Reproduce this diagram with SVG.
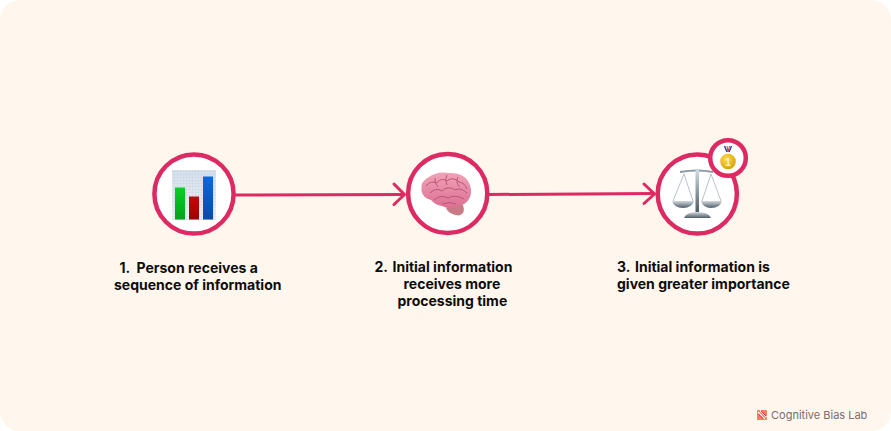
<svg xmlns="http://www.w3.org/2000/svg" width="891" height="431" viewBox="0 0 891 431">
<defs>
<style>
.ring{fill:#fff;stroke:#de2a63;stroke-width:4.500}
.link{fill:none;stroke:#de2a63;stroke-width:3;stroke-linecap:round;stroke-linejoin:round}
.label{font-family:Inter,"Liberation Sans",sans-serif;font-size:14px;font-weight:700;fill:#0d0d0d}
</style>
<linearGradient id="g1" x1="0" x2="0" y1="0" y2="1"><stop offset="0" stop-color="#09cf25"/><stop offset="1" stop-color="#03a21a"/></linearGradient>
<linearGradient id="r1" x1="0" x2="0" y1="0" y2="1"><stop offset="0" stop-color="#c40808"/><stop offset="1" stop-color="#9c0404"/></linearGradient>
<linearGradient id="b1" x1="0" x2="0" y1="0" y2="1"><stop offset="0" stop-color="#1166dd"/><stop offset="1" stop-color="#0a4aa8"/></linearGradient>
<linearGradient id="bg1" x1="0" x2="0" y1="0" y2="1"><stop offset="0" stop-color="#d5e0ec"/><stop offset="1" stop-color="#eef2f6"/></linearGradient>
<linearGradient id="br" x1="0" x2="0" y1="0" y2="1"><stop offset="0" stop-color="#f0a3b8"/><stop offset="1" stop-color="#db6f92"/></linearGradient>
<linearGradient id="steel" x1="0" x2="0" y1="0" y2="1"><stop offset="0" stop-color="#d2dae0"/><stop offset="1" stop-color="#4e5c68"/></linearGradient>
<radialGradient id="gold" cx=".4" cy=".35" r=".7"><stop offset="0" stop-color="#ffdf4a"/><stop offset="1" stop-color="#dc9a08"/></radialGradient>
<pattern id="grid" width="3" height="3" patternUnits="userSpaceOnUse"><path d="M3 0H0V3" fill="none" stroke="#bccbdc" stroke-width=".5"/></pattern>
</defs>
<rect width="891" height="431" fill="#fff"/>
<rect id="background" width="891" height="431" rx="20" fill="#fff6ed"/>
<g id="connectors">
<path class="link" d="M236 195 L403 194.500"/>
<path class="link" d="M394 184 L404.500 194.500 L394 204.500"/>
<path class="link" d="M489 194.500 L654 193.500"/>
<path class="link" d="M644 184 L654.500 194 L644 203.500"/>
</g>
<g id="node-1">
<circle class="ring" cx="194" cy="194" r="39.600"/>
<rect x="172" y="170" width="44" height="50" fill="url(#bg1)"/>
<rect x="172" y="170" width="44" height="50" fill="url(#grid)"/>
<rect x="175" y="187.500" width="10" height="32" fill="url(#g1)"/>
<rect x="189" y="196.500" width="10" height="23" fill="url(#r1)"/>
<rect x="203" y="176.500" width="10" height="43" fill="url(#b1)"/>
<text class="label" x="119.500" y="273">1.<tspan x="136.500">Person receives a</tspan></text>
<text class="label" x="114" y="290">sequence of information</text>
</g>
<g id="node-2">
<circle class="ring" cx="447.700" cy="193.500" r="39.600"/>
<path d="M446 208 Q449 215 459 215.500 Q466 214 463 205 L449 205Z" fill="#c97a86"/>
<path d="M421.500 191 Q420 181 429 177 Q437 171 449 173 Q462 172 468 181 Q473 189 470 197 Q466 206 456 206 Q450 210 442 206 Q435 205 431 200 Q423 198 421.500 191Z" fill="url(#br)"/>
<path d="M426 186 Q431 180 437 183 Q441 177 447 181 Q453 176 459 182 Q465 183 467 189 M430 193 Q436 187 442 191 Q448 185 455 190 Q461 187 467 193 M434 200 Q441 194 448 198 Q455 194 464 199 M442 204 Q449 201 456 204 M447 175 Q444 180 447 185 M458 177 Q455 183 460 187 M435 178 Q434 183 438 187" fill="none" stroke="#bf5579" stroke-width="1"/>
</g>
<g id="node-3">
<circle class="ring" cx="697.300" cy="194" r="39.600"/>
<path d="M680 172 Q697 169 713 172" fill="none" stroke="#8a99a6" stroke-width="2"/>
<rect x="695.500" y="170" width="3.500" height="42" fill="url(#steel)"/>
<path d="M684 174 L673 201 M684 174 L693 201 M711 174 L702 201 M711 174 L721 201" fill="none" stroke="#a9b5bf" stroke-width=".8"/>
<path d="M672 201 H694 Q692 208 683 208 Q674 208 672 201Z" fill="url(#steel)"/>
<path d="M701 201 H722 Q720 208 711 208 Q703 208 701 201Z" fill="url(#steel)"/>
<path d="M684 218 Q686 212 697 212 Q709 212 711 218Z" fill="url(#steel)"/>
</g>
<g id="badge">
<circle class="ring" cx="728" cy="158" r="17.800"/>
<path d="M724.500 146 L727 152 M731.500 146 L729 152" stroke="#2a45a8" stroke-width="1.500"/>
<path d="M727 146 L728 152 M729.500 146 L728 152" stroke="#d43a3a" stroke-width="1"/>
<circle cx="728" cy="161.500" r="7.800" fill="url(#gold)"/>
<text x="728" y="165.500" text-anchor="middle" font-family="'Liberation Sans',sans-serif" font-size="11" font-weight="700" fill="#f6f0c0">1</text>
</g>
<g id="caption-2">
<text class="label" x="374.500" y="272">2.<tspan x="392.500">Initial information</tspan></text>
<text class="label" x="403.500" y="289">receives more</text>
<text class="label" x="397.500" y="306">processing time</text>
</g>
<g id="caption-3">
<text class="label" x="617" y="272">3.<tspan x="635">Initial information is</tspan></text>
<text class="label" x="617" y="289">given greater importance</text>
</g>
<g id="logo">
<rect x="757" y="410" width="10" height="10" rx="1" fill="#f47f5c"/>
<path d="M758 412 L765 419 M760 410.500 L766.500 417" stroke="#fff" stroke-width="1.200"/>
<path d="M758.500 414 L763 418.500 M761 411 L766 416" stroke="#e8246f" stroke-width="1"/>
<text x="771" y="419" font-family="Inter,'Liberation Sans',sans-serif" font-size="11" fill="#7a6d6d">Cognitive Bias Lab</text>
</g>
</svg>
